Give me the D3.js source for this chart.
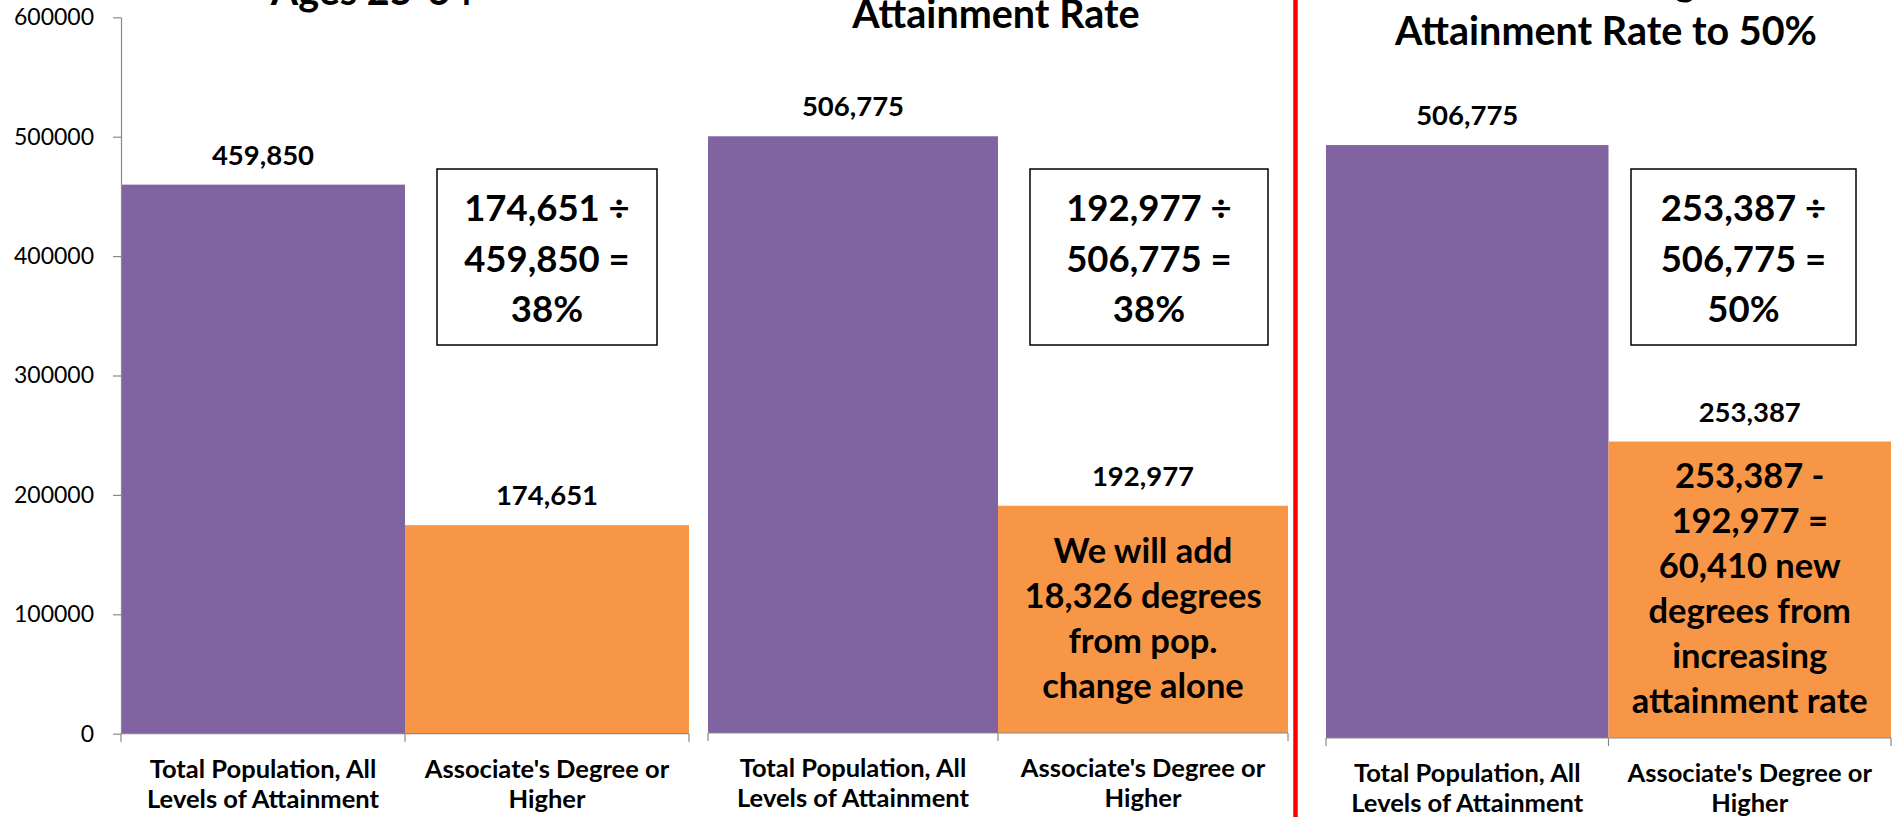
<!DOCTYPE html>
<html>
<head>
<meta charset="utf-8">
<script src="https://cdn.jsdelivr.net/npm/d3@7"></script>
<style>
  body { margin: 0; background: #fff; }
  svg { display: block; }
  text { font-family: Lato, "Noto Sans", sans-serif; fill: #000; }
</style>
</head>
<body>
<div id="chart"></div>
<script>
// data
const categories = ["Total Population, All Levels of Attainment", "Associate's Degree or Higher"];
const categoryLines = [["Total Population, All", "Levels of Attainment"], ["Associate's Degree or", "Higher"]];
const totalPopulation = [459850, 506775, 506775];
const degreeHolders = [174651, 192977, 253387];
const yTicks = [0, 100000, 200000, 300000, 400000, 500000, 600000];
const titleLines = [["Ages 25-64"], ["Attainment Rate"], ["Increasing", "Attainment Rate to 50%"]];
const boxLines = [
    ["174,651 \u00f7", "459,850 =", "38%"],
    ["192,977 \u00f7", "506,775 =", "38%"],
    ["253,387 \u00f7", "506,775 =", "50%"]
];
const barNotes = [
    [],
    ["We will add", "18,326 degrees", "from pop.", "change alone"],
    ["253,387 -", "192,977 =", "60,410 new", "degrees from", "increasing", "attainment rate"]
];

// layout of the three side-by-side charts
const width = 1897, height = 817;
const panels = [
    { x0: 121, x1: 689, y0: 733.7, y1: 17.3, titleX: 372, titleY: 5, box: [437, 169, 220, 176], yAxis: true },
    { x0: 708, x1: 1288, y0: 733, y1: 26.5, titleX: 996, titleY: 28, box: [1030, 169, 238, 176] },
    { x0: 1326, x1: 1891, y0: 738, y1: 36, titleX: 1606, titleY: 45, box: [1631, 169, 225, 176] }
];
const colors = ['#8064A2', '#F79646'];
const axisColor = '#898989';

const svg = d3.select('#chart').append('svg')
    .attr('width', width)
    .attr('height', height);

panels.forEach(function (p, i) {
    const values = [totalPopulation[i], degreeHolders[i]];

    const xScale = d3.scaleBand()
        .domain(categories)
        .range([p.x0, p.x1])
        .padding(0);

    const yScale = d3.scaleLinear()
        .domain([0, 600000])
        .range([p.y0, p.y1]);

    const g = svg.append('g').attr('class', 'panel');

    // title (only the lower lines fit on the page)
    g.append('text')
        .attr('text-anchor', 'middle')
        .style('font-weight', 700)
        .style('font-size', '39.5px')
        .selectAll('tspan')
        .data(titleLines[i].slice().reverse())
        .enter().append('tspan')
        .attr('x', p.titleX)
        .attr('y', function (d, j) { return p.titleY - j * 50; })
        .text(function (d) { return d; });

    // bars
    g.selectAll('.bar')
        .data(values)
        .enter().append('rect')
        .attr('class', 'bar')
        .attr('x', function (d, j) { return xScale(categories[j]); })
        .attr('y', function (d) { return yScale(d); })
        .attr('width', xScale.bandwidth())
        .attr('height', function (d) { return yScale(0) - yScale(d); })
        .attr('fill', function (d, j) { return colors[j]; });

    // value labels
    g.selectAll('.value')
        .data(values)
        .enter().append('text')
        .attr('class', 'value')
        .attr('text-anchor', 'middle')
        .attr('x', function (d, j) { return xScale(categories[j]) + xScale.bandwidth() / 2; })
        .attr('y', function (d) { return yScale(d) - 20; })
        .style('font-weight', 700)
        .style('font-size', '27.5px')
        .text(d3.format(','));

    // note written inside the orange bar
    const mid = (yScale(degreeHolders[i]) + yScale(0)) / 2;
    const n = barNotes[i].length;
    g.append('text')
        .attr('text-anchor', 'middle')
        .style('font-weight', 700)
        .style('font-size', '34.5px')
        .selectAll('tspan')
        .data(barNotes[i])
        .enter().append('tspan')
        .attr('x', xScale(categories[1]) + xScale.bandwidth() / 2)
        .attr('y', function (d, j) { return mid + (j - (n - 1) / 2) * 45 + 11; })
        .text(function (d) { return d; });

    // x axis: baseline with ticks at the band edges
    g.append('line')
        .attr('x1', p.x0).attr('x2', p.x1)
        .attr('y1', yScale(0)).attr('y2', yScale(0))
        .attr('stroke', axisColor).attr('stroke-width', 1.2);

    const edges = categories.map(function (c) { return xScale(c); }).concat([p.x1]);
    g.selectAll('.xtick')
        .data(edges)
        .enter().append('line')
        .attr('class', 'xtick')
        .attr('x1', function (d) { return d; }).attr('x2', function (d) { return d; })
        .attr('y1', yScale(0)).attr('y2', yScale(0) + 8)
        .attr('stroke', axisColor).attr('stroke-width', 1.2);

    g.selectAll('.xlabel')
        .data(categoryLines)
        .enter().append('text')
        .attr('class', 'xlabel')
        .attr('text-anchor', 'middle')
        .style('font-weight', 700)
        .style('font-size', '25.5px')
        .each(function (lines, j) {
            d3.select(this).selectAll('tspan')
                .data(lines)
                .enter().append('tspan')
                .attr('x', xScale(categories[j]) + xScale.bandwidth() / 2)
                .attr('y', function (d, k) { return yScale(0) + 44 + k * 30; })
                .text(function (d) { return d; });
        });

    // y axis only on the first chart
    if (p.yAxis) {
        const yAxis = g.append('g')
            .attr('transform', 'translate(' + p.x0 + ',0)')
            .call(d3.axisLeft(yScale)
                .tickValues(yTicks)
                .tickFormat(d3.format('d'))
                .tickSize(8)
                .tickSizeOuter(0)
                .tickPadding(19));
        yAxis.select('.domain').attr('stroke', axisColor).attr('stroke-width', 1.2);
        yAxis.selectAll('.tick line').attr('stroke', axisColor).attr('stroke-width', 1.2);
        yAxis.selectAll('.tick text')
            .style('font-family', 'Lato, sans-serif')
            .style('font-size', '23px')
            .attr('fill', '#000');
    }

    // framed calculation box
    g.append('rect')
        .attr('x', p.box[0]).attr('y', p.box[1])
        .attr('width', p.box[2]).attr('height', p.box[3])
        .attr('fill', '#fff')
        .attr('stroke', '#000')
        .attr('stroke-width', 1.5);

    g.append('text')
        .attr('text-anchor', 'middle')
        .style('font-weight', 700)
        .style('font-size', '36.5px')
        .selectAll('tspan')
        .data(boxLines[i])
        .enter().append('tspan')
        .attr('x', p.box[0] + p.box[2] / 2)
        .attr('y', function (d, j) { return p.box[1] + 52 + j * 50.5; })
        .text(function (d) { return d; });
});

// red divider between the current and the projected charts
svg.append('line')
    .attr('x1', 1295.5).attr('x2', 1295.5)
    .attr('y1', 0).attr('y2', height)
    .attr('stroke', '#FF0000')
    .attr('stroke-width', 4.5);
</script>
</body>
</html>
